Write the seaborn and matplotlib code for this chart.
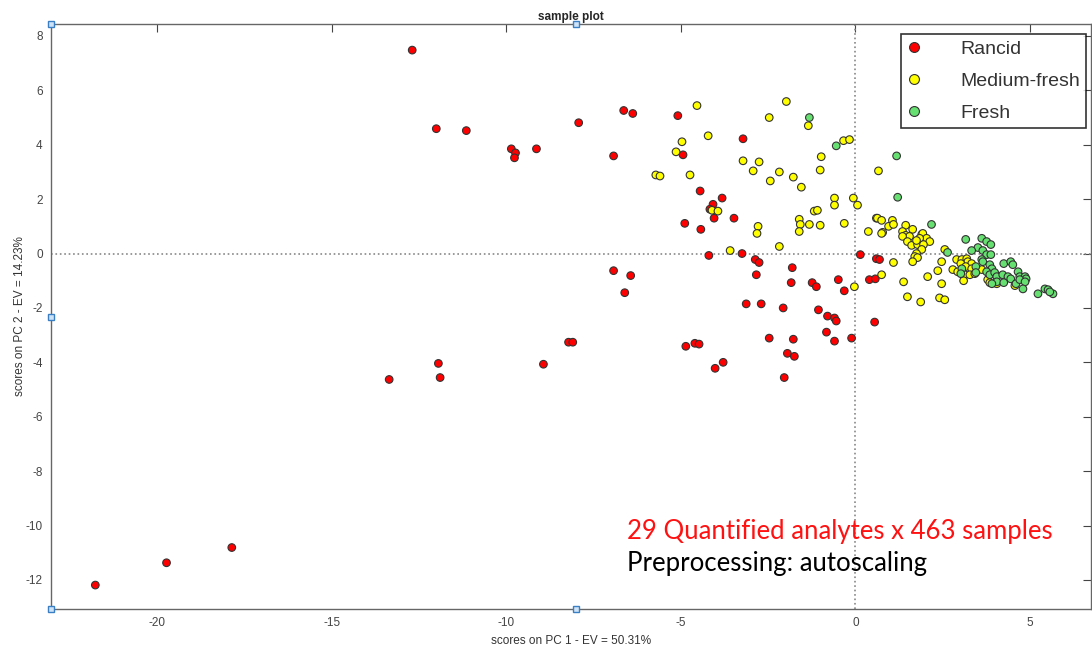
import numpy as np
import pandas as pd
import seaborn as sns
import matplotlib.pyplot as plt

# scores (PC1, PC2)
rancid_pc1 = [-12.70, -12.01, -11.15, -9.86, -9.74, -9.77, -9.14, -7.93, -6.93, -6.64, -6.38,
              -6.93, -6.44, -6.61, -11.95, -11.90, -13.36, -8.94, -8.22, -8.10, -17.87, -19.74,
              -21.78, -5.09, -3.22, -4.94, -4.45, -3.82, -4.08, -4.17, -4.05, -3.48, -4.89, -4.43,
              -4.20, -3.25, -2.87, -2.76, -2.84, -1.81, -1.84, -1.24, -1.12, -0.49, -0.32, 0.14,
              0.40, 0.57, 0.60, 0.69, 0.55, -3.13, -2.70, -2.07, -1.06, -0.80, -0.60, -0.55,
              -0.83, -0.60, -0.11, -2.47, -1.78, -4.86, -4.60, -4.48, -1.95, -1.75, -3.79, -4.02,
              -2.04]
rancid_pc2 = [7.48, 4.59, 4.52, 3.85, 3.70, 3.52, 3.85, 4.81, 3.59, 5.26, 5.15,
              -0.63, -0.81, -1.44, -4.04, -4.56, -4.63, -4.07, -3.26, -3.26, -10.81, -11.37,
              -12.19, 5.07, 4.22, 3.63, 2.30, 2.04, 1.81, 1.63, 1.30, 1.30, 1.11, 0.89,
              -0.07, 0.00, -0.22, -0.33, -0.78, -0.52, -1.07, -1.07, -1.22, -0.96, -1.37, -0.04,
              -0.96, -0.93, -0.19, -0.22, -2.52, -1.85, -1.85, -2.00, -2.07, -2.30, -2.37, -2.48,
              -2.89, -3.22, -3.11, -3.11, -3.15, -3.41, -3.30, -3.33, -3.67, -3.78, -4.00, -4.22,
              -4.56]

medium_pc1 = [-4.54, -1.98, -2.47, -1.35, -4.22, -4.97, -5.14, -0.34, -0.17, -0.98, -1.01,
              -3.22, -2.76, -2.93, -2.18, -2.44, -1.78, -1.55, -5.72, -5.60, -4.74, 0.66,
              -0.60, -0.60, -0.06, 0.06, -1.18, -1.09, -1.61, -1.58, -1.61, -1.32, -1.01,
              -0.32, 0.37, 0.60, -4.11, -3.94, -2.79, -2.82, -2.18, -3.59, -0.03, 0.63, 0.75,
              1.06, 0.95, 1.09, 0.78, 0.75, 1.44, 1.64, 1.35, 1.44, 1.55, 1.35, 1.49, 1.61,
              1.78, 1.90, 1.93, 2.04, 2.13, 1.84, 1.75, 1.95, 1.90, 1.75, 1.70, 1.78, 1.64,
              1.09, 2.56, 2.47, 2.36, 2.07, 2.47, 1.38, 0.75, 1.49, 1.87, 2.41, 2.56, 2.90,
              3.05, 3.19, 3.22, 3.33, 3.02, 3.16, 3.33, 2.79, 2.93, 3.13, 3.28, 3.42, 3.10,
              3.62, 3.79, 3.85, 4.05, 4.57]
medium_pc2 = [5.44, 5.59, 5.00, 4.70, 4.33, 4.11, 3.74, 4.15, 4.19, 3.56, 3.07,
              3.41, 3.37, 3.04, 3.00, 2.67, 2.81, 2.44, 2.89, 2.85, 2.89, 3.04,
              2.04, 1.78, 2.04, 1.78, 1.56, 1.59, 1.26, 1.07, 0.81, 1.07, 1.04,
              1.11, 0.81, 1.30, 1.59, 1.56, 1.00, 0.74, 0.26, 0.11, -1.22, 1.30, 1.22,
              1.22, 1.00, 1.07, 0.78, 0.74, 1.04, 0.89, 0.81, 0.67, 0.63, 0.63, 0.44, 0.30,
              0.33, 0.70, 0.74, 0.56, 0.44, 0.56, 0.48, 0.33, 0.15, 0.00, -0.11, -0.15, -0.30,
              -0.33, 0.15, -0.30, -0.63, -0.85, -1.11, -1.04, -0.78, -1.59, -1.78, -1.63, -1.70, -0.22,
              -0.22, -0.19, -0.30, -0.37, -0.37, -0.48, -0.56, -0.59, -0.67, -0.78, -0.78, -0.74, -1.00,
              -0.59, -0.96, -1.07, -1.11, -1.18]

fresh_pc1 = [-1.32, -0.55, 1.18, 1.21, 2.18, 2.64, 3.16, 3.62, 3.76, 3.88, 3.51, 3.65, 3.76,
             3.88, 3.33, 3.62, 3.65, 3.85, 3.91, 4.25, 4.45, 4.51, 3.05, 3.02, 3.76, 3.85,
             3.99, 4.05, 4.22, 4.37, 4.45, 4.66, 4.71, 4.86, 4.89, 4.05, 4.25, 4.60, 4.71,
             4.86, 3.91, 4.80, 5.23, 5.43, 5.52, 5.66, 5.57, 3.45, 3.45]
fresh_pc2 = [5.00, 3.96, 3.59, 2.07, 1.07, 0.04, 0.52, 0.56, 0.44, 0.33, 0.22, 0.11, -0.04,
             -0.04, 0.11, -0.22, -0.30, -0.41, -0.56, -0.37, -0.30, -0.41, -0.56, -0.74, -0.67, -0.78,
             -0.70, -0.85, -0.78, -0.85, -0.93, -0.67, -0.85, -0.85, -0.93, -1.04, -1.07, -1.11, -0.96,
             -1.04, -1.11, -1.30, -1.48, -1.30, -1.33, -1.48, -1.41, -0.48, -0.70]

classes = ['Rancid', 'Medium-fresh', 'Fresh']
colors = ['#ff0000', '#ffff00', '#66e070']

df = pd.concat([
    pd.DataFrame({'pc1': rancid_pc1, 'pc2': rancid_pc2, 'cls': 'Rancid'}),
    pd.DataFrame({'pc1': medium_pc1, 'pc2': medium_pc2, 'cls': 'Medium-fresh'}),
    pd.DataFrame({'pc1': fresh_pc1, 'pc2': fresh_pc2, 'cls': 'Fresh'}),
], ignore_index=True)

sns.set_style('white')
plt.rcParams['font.family'] = ['Liberation Sans', 'DejaVu Sans']
plt.rcParams['axes.unicode_minus'] = False

fig = plt.figure(figsize=(10.92, 6.5), dpi=100)
ax = fig.add_axes([51 / 1092, 41 / 650, 1040 / 1092, 585 / 650])

sns.scatterplot(data=df, x='pc1', y='pc2', hue='cls', hue_order=classes,
                palette=dict(zip(classes, colors)), s=30, edgecolor='#333333',
                linewidth=0.8, ax=ax, zorder=3)

ax.axhline(0, color='#888888', ls=':', lw=1.2, zorder=1)
ax.axvline(0, color='#888888', ls=':', lw=1.2, zorder=1)

ax.set_xlim(-23.05, 6.75)
ax.set_ylim(-13.07, 8.44)
ax.set_xticks(np.arange(-20, 6, 5))
ax.set_yticks(np.arange(-12, 9, 2))
ax.tick_params(direction='in', length=6, width=0.8, color='#444444', labelcolor='#444444',
               labelsize=8.5, top=True, right=True, pad=6)
for sp in ax.spines.values():
    sp.set_color('#666666')
    sp.set_linewidth(1.0)

ax.set_title('sample plot', fontsize=8.5, fontweight='bold', pad=3)
ax.set_xlabel('scores on PC 1 - EV = 50.31%', fontsize=8.5, color='#333333', labelpad=4)
ax.set_ylabel('scores on PC 2 - EV = 14.23%', fontsize=8.5, color='#333333', labelpad=0)

# matlab selection handles on the axes
for hx, hy in [(0, 1), (0.505, 1), (0, 0.5), (0.505, 0), (0, 0)]:
    ax.plot(hx, hy, marker='s', ms=4.5, mfc='#cfe3f7', mec='#3a7fc4', mew=1,
            transform=ax.transAxes, clip_on=False, zorder=5)

leg = ax.legend(loc='upper right', bbox_to_anchor=(1086 / 1092, 1 - 34 / 650),
                bbox_transform=fig.transFigure, borderaxespad=0, fontsize=14,
                frameon=True, fancybox=False, edgecolor='black', markerscale=1.3,
                handletextpad=2.0, borderpad=0.32, labelspacing=0.75, handlelength=0.7)
leg.get_frame().set_linewidth(1.2)
for t in leg.get_texts():
    t.set_color('#333333')

ax.text(-6.55, -10.22, '29 Quantified analytes x 463 samples', color='#ff1111',
        fontsize=18.5, va='center', family=['Lato', 'DejaVu Sans'])
ax.text(-6.55, -11.41, 'Preprocessing: autoscaling', color='black',
        fontsize=18.5, va='center', family=['Lato', 'DejaVu Sans'])

fig.savefig('out.png', dpi=100)
